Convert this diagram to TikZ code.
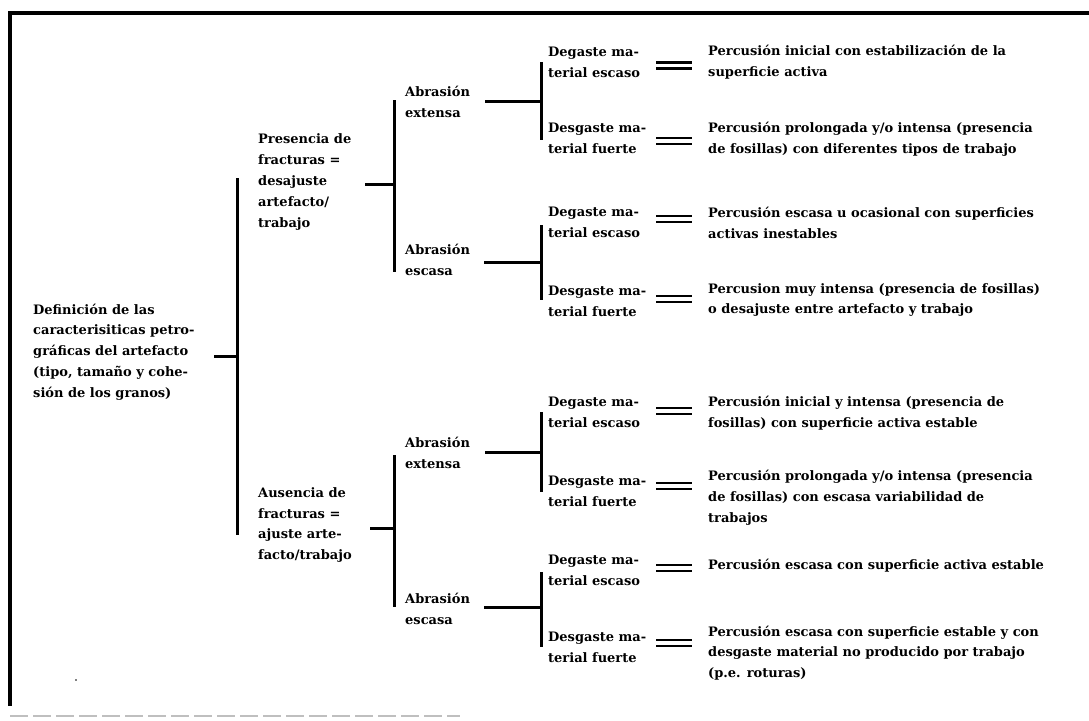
\documentclass[tikz,border=0pt]{standalone}
\usepackage{fontspec}
\setmainfont{DejaVu Serif}
\newcommand\txtfont{\fontsize{13}{20.8}\selectfont\bfseries}
\begin{document}
\begin{tikzpicture}[x=1pt,y=-1pt,
  txt/.style={anchor=west,align=left,inner sep=0pt,font=\txtfont},
  brk/.style={line width=3pt},
  conn/.style={line width=3pt},
  frame/.style={line width=3.5pt},
  eqbar/.style={line width=2.6pt}]
\useasboundingbox (0,0) rectangle (1089,720);
% frame
\coordinate (ftl) at (10,13);
\coordinate (ftr) at (1089,13);
\coordinate (fbl) at (10,706);
\draw[frame] (ftr) -- (ftl) -- (fbl);
\coordinate (dbl) at (10,716);
\coordinate (dbr) at (460,716);
\draw[gray!50,line width=2pt,dash pattern=on 18pt off 5pt] (dbl) -- (dbr);
\fill (76,680) circle (0.9pt);

% level 0
\node[txt] (root) at (33,352) {Definición de las\\caracterisiticas petro-\\gráficas del artefacto\\(tipo, tamaño y cohe-\\sión de los granos)};
% level 1
\node[txt] (pres) at (258,182) {Presencia de\\fracturas =\\desajuste\\artefacto/\\trabajo};
\node[txt] (aus) at (258,525) {Ausencia de\\fracturas =\\ajuste arte-\\facto/trabajo};
% level 2
\node[txt] (ae1) at (405,102) {Abrasión\\extensa};
\node[txt] (as1) at (405,260) {Abrasión\\escasa};
\node[txt] (ae2) at (405,453) {Abrasión\\extensa};
\node[txt] (as2) at (405,609) {Abrasión\\escasa};
% level 3
\node[txt] (d1) at (548,62.5) {Degaste ma-\\terial escaso};
\node[txt] (d2) at (548,138.5) {Desgaste ma-\\terial fuerte};
\node[txt] (d3) at (548,222) {Degaste ma-\\terial escaso};
\node[txt] (d4) at (548,301) {Desgaste ma-\\terial fuerte};
\node[txt] (d5) at (548,412) {Degaste ma-\\terial escaso};
\node[txt] (d6) at (548,491) {Desgaste ma-\\terial fuerte};
\node[txt] (d7) at (548,570) {Degaste ma-\\terial escaso};
\node[txt] (d8) at (548,647) {Desgaste ma-\\terial fuerte};
% leaves
\node[txt] (l1) at (708,62.5) {Percusión inicial con estabilización de la\\superficie activa};
\node[txt] (l2) at (708,139) {Percusión prolongada y/o intensa (presencia\\de fosillas) con diferentes tipos de trabajo};
\node[txt] (l3) at (708,223) {Percusión escasa u ocasional con superficies\\activas inestables};
\node[txt] (l4) at (708,300) {Percusion muy intensa (presencia de fosillas)\\o desajuste entre artefacto y trabajo};
\node[txt] (l5) at (708,413) {Percusión inicial y intensa (presencia de\\fosillas) con superficie activa estable};
\node[txt] (l6) at (708,498) {Percusión prolongada y/o intensa (presencia\\de fosillas) con escasa variabilidad de\\trabajos};
\node[txt] (l7) at (708,566) {Percusión escasa con superficie activa estable};
\node[txt] (l8) at (708,653) {Percusión escasa con superficie estable y con\\desgaste material no producido por trabajo\\(p.e. roturas)};

% brackets: top, bottom, junction, connector start
\foreach \n/\x/\t/\b/\j/\s in {B0/237/178/535/356/214, B1/394/100/272/184/365, B2/394/455/607/528/370,
  B3/541/62/140/101/485, B4/541/225/300/262/484, B5/541/412/492/452/485, B6/541/572/647/607/484}{
  \coordinate (\n t) at (\x,\t);
  \coordinate (\n b) at (\x,\b);
  \coordinate (\n j) at (\x,\j);
  \coordinate (\n s) at (\s,\j);
  \draw[brk] (\n t) -- (\n b);
  \draw[conn] (\n s) -- (\n j);
}

% equals signs
\foreach \n/\y in {E1/65.5, E2/141, E3/219, E4/299, E5/411, E6/486, E7/568, E8/643}{
  \coordinate (\n a) at (656,\y-3);
  \coordinate (\n b) at (692,\y-3);
  \coordinate (\n c) at (656,\y+3);
  \coordinate (\n d) at (692,\y+3);
  \draw[eqbar] (\n a) -- (\n b);
  \draw[eqbar] (\n c) -- (\n d);
}
\end{tikzpicture}
\end{document}
